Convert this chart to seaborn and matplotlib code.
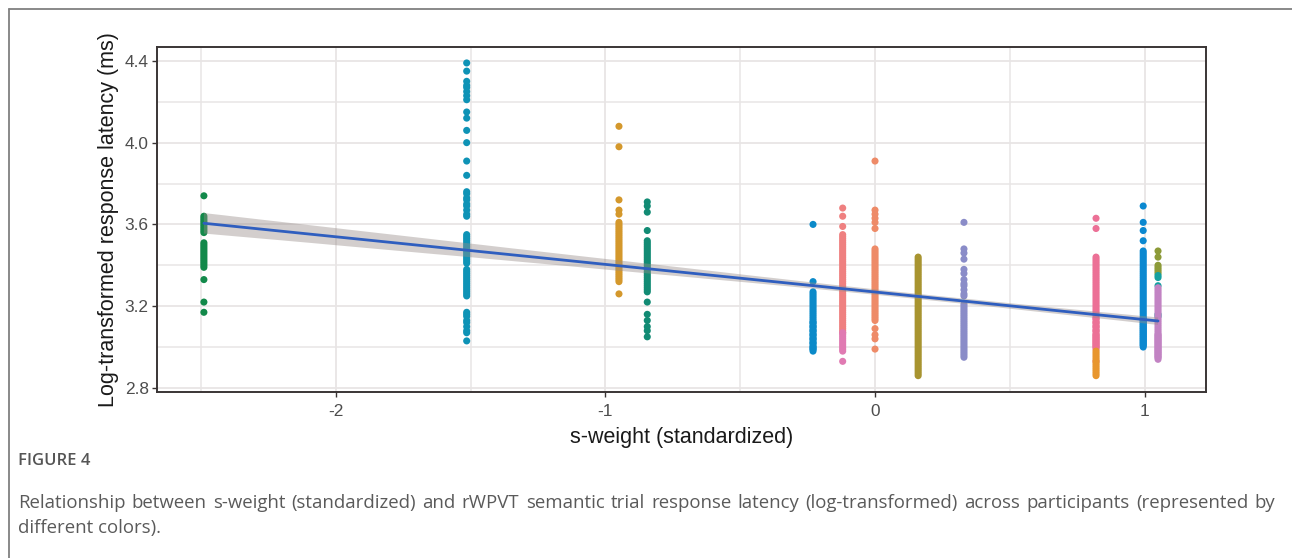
import numpy as np
import pandas as pd
import matplotlib
matplotlib.use("Agg")
import matplotlib.pyplot as plt
import seaborn as sns
from matplotlib.lines import Line2D

# ---------------- data ----------------
participant_ids = ["P01", "P02", "P03", "P04", "P05", "P06", "P07", "P08",
                   "P09", "P10", "P11", "P12", "P13", "P14", "P15", "P16"]
sweight = [-2.49, -1.515, -0.95, -0.845, -0.23, -0.12, -0.12, 0.0,
           0.16, 0.33, 0.82, 0.82, 0.995, 1.05, 1.05, 1.05]
colors = ["#12894A", "#0E93B6", "#D4982C", "#128B74", "#0B8AC9", "#EF8080",
          "#E07AB2", "#EE8B68", "#A89430", "#8A8CC8", "#EC7096", "#E8962E",
          "#0B88D0", "#8C9A38", "#14A0A0", "#C283C3"]

p01 = [3.74, 3.64, 3.63, 3.62, 3.61, 3.60, 3.59, 3.58, 3.57, 3.56, 3.51, 3.50,
       3.49, 3.48, 3.47, 3.46, 3.45, 3.44, 3.43, 3.42, 3.41, 3.40, 3.39, 3.33,
       3.22, 3.17]
p02 = [4.39, 4.35, 4.30, 4.28, 4.27, 4.25, 4.23, 4.21, 4.15, 4.12, 4.06, 4.00,
       3.91, 3.84, 3.76, 3.75, 3.73, 3.72, 3.70, 3.69, 3.67, 3.65, 3.64, 3.55,
       3.54, 3.53, 3.52, 3.51, 3.50, 3.49, 3.48, 3.47, 3.46, 3.45, 3.44, 3.43,
       3.42, 3.41, 3.38, 3.37, 3.36, 3.35, 3.34, 3.33, 3.32, 3.31, 3.30, 3.29,
       3.28, 3.27, 3.26, 3.25, 3.17, 3.16, 3.15, 3.13, 3.12, 3.10, 3.08, 3.07,
       3.03]
p03 = [4.08, 3.98, 3.72, 3.67, 3.65, 3.61, 3.60, 3.59, 3.58, 3.57, 3.56, 3.55,
       3.54, 3.53, 3.52, 3.51, 3.50, 3.49, 3.48, 3.47, 3.46, 3.45, 3.44, 3.43,
       3.42, 3.41, 3.40, 3.39, 3.38, 3.37, 3.36, 3.35, 3.34, 3.33, 3.32, 3.26]
p04 = [3.71, 3.69, 3.66, 3.57, 3.52, 3.51, 3.50, 3.49, 3.48, 3.47, 3.46, 3.45,
       3.44, 3.43, 3.42, 3.41, 3.40, 3.39, 3.38, 3.37, 3.36, 3.35, 3.34, 3.33,
       3.32, 3.31, 3.30, 3.29, 3.28, 3.27, 3.22, 3.16, 3.13, 3.10, 3.08, 3.05]
p05 = [3.60, 3.32, 3.27, 3.26, 3.25, 3.24, 3.23, 3.22, 3.21, 3.20, 3.19, 3.18,
       3.17, 3.16, 3.15, 3.14, 3.13, 3.12, 3.11, 3.10, 3.09, 3.08, 3.07, 3.06,
       3.05, 3.04, 3.03, 3.02, 3.01, 3.00, 2.99, 2.98, 3.02, 3.04, 3.06, 3.08,
       3.10, 3.12, 3.00, 2.99]
p06 = [3.68, 3.64, 3.59, 3.55, 3.54, 3.53, 3.52, 3.51, 3.50, 3.49, 3.48, 3.47,
       3.46, 3.45, 3.44, 3.43, 3.42, 3.41, 3.40, 3.39, 3.38, 3.37, 3.36, 3.35,
       3.34, 3.33, 3.32, 3.31, 3.30, 3.29, 3.28, 3.27, 3.26, 3.25, 3.24, 3.23,
       3.22, 3.21, 3.20, 3.19, 3.18, 3.17, 3.16, 3.15, 3.14, 3.13, 3.12, 3.11,
       3.10, 3.09, 3.08, 3.07]
p07 = [3.07, 3.06, 3.05, 3.04, 3.03, 3.02, 3.01, 3.00, 2.99, 2.98, 2.93]
p08 = [3.91, 3.67, 3.65, 3.63, 3.61, 3.58, 3.48, 3.47, 3.46, 3.45, 3.44, 3.43,
       3.42, 3.41, 3.40, 3.39, 3.38, 3.37, 3.36, 3.35, 3.34, 3.33, 3.32, 3.31,
       3.30, 3.29, 3.28, 3.27, 3.26, 3.25, 3.24, 3.23, 3.22, 3.21, 3.20, 3.19,
       3.18, 3.17, 3.16, 3.15, 3.14, 3.13, 3.09, 3.06, 3.04, 2.99]
p09 = [3.44, 3.43, 3.42, 3.41, 3.40, 3.39, 3.38, 3.37, 3.36, 3.35, 3.34, 3.33,
       3.32, 3.31, 3.30, 3.29, 3.28, 3.27, 3.26, 3.25, 3.24, 3.23, 3.22, 3.21,
       3.20, 3.19, 3.18, 3.17, 3.16, 3.15, 3.14, 3.13, 3.12, 3.11, 3.10, 3.09,
       3.08, 3.07, 3.06, 3.05, 3.04, 3.03, 3.02, 3.01, 3.00, 2.99, 2.98, 2.97,
       2.96, 2.95, 2.94, 2.93, 2.92, 2.91, 2.90, 2.89, 2.88, 2.87, 2.86]
p10 = [3.61, 3.48, 3.46, 3.43, 3.38, 3.36, 3.33, 3.31, 3.30, 3.28, 3.26, 3.25,
       3.21, 3.20, 3.19, 3.18, 3.17, 3.16, 3.15, 3.14, 3.13, 3.12, 3.11, 3.10,
       3.09, 3.08, 3.07, 3.06, 3.05, 3.04, 3.03, 3.02, 3.01, 3.00, 2.99, 2.98,
       2.97, 2.96, 2.95]
p11 = [3.63, 3.58, 3.44, 3.43, 3.42, 3.41, 3.40, 3.39, 3.38, 3.37, 3.36, 3.35,
       3.34, 3.33, 3.32, 3.31, 3.30, 3.29, 3.28, 3.27, 3.26, 3.25, 3.24, 3.23,
       3.22, 3.21, 3.20, 3.19, 3.18, 3.17, 3.16, 3.15, 3.14, 3.13, 3.12, 3.11,
       3.10, 3.09, 3.08, 3.07, 3.06, 3.05, 3.04, 3.03, 3.02, 3.01, 3.00, 2.99,
       2.93, 3.00, 3.02, 3.04, 3.06, 3.08, 3.10, 3.12, 3.14, 3.01, 3.03, 3.05]
p12 = [2.98, 2.97, 2.96, 2.95, 2.94, 2.93, 2.92, 2.91, 2.90, 2.89, 2.88, 2.87,
       2.86]
p13 = [3.69, 3.61, 3.57, 3.52, 3.47, 3.46, 3.45, 3.44, 3.43, 3.42, 3.41, 3.40,
       3.39, 3.38, 3.37, 3.36, 3.35, 3.34, 3.33, 3.32, 3.31, 3.30, 3.29, 3.28,
       3.27, 3.26, 3.25, 3.24, 3.23, 3.22, 3.21, 3.20, 3.19, 3.18, 3.17, 3.16,
       3.15, 3.14, 3.13, 3.12, 3.11, 3.10, 3.09, 3.08, 3.07, 3.06, 3.05, 3.04,
       3.03, 3.02, 3.01, 3.00, 3.01, 3.03, 3.05, 3.07, 3.09, 3.11, 3.13, 3.02,
       3.04, 3.06, 3.08, 3.10, 3.12, 3.14]
p14 = [3.47, 3.44, 3.40, 3.39, 3.38, 3.37, 3.36]
p15 = [3.35, 3.34, 3.30, 3.16, 3.15]
p16 = [3.29, 3.28, 3.27, 3.26, 3.25, 3.24, 3.23, 3.22, 3.21, 3.20, 3.19, 3.18,
       3.17, 3.16, 3.15, 3.14, 3.13, 3.12, 3.11, 3.10, 3.09, 3.08, 3.07, 3.06,
       3.05, 3.04, 3.03, 3.02, 3.01, 3.00, 2.99, 2.98, 2.97, 2.96, 2.95, 2.94,
       2.95, 2.96, 2.97, 2.98, 2.99, 3.00, 3.01, 3.02, 3.03, 3.04, 3.05, 3.06]
latencies = [p01, p02, p03, p04, p05, p06, p07, p08,
             p09, p10, p11, p12, p13, p14, p15, p16]

x_ticks = [-2, -1, 0, 1]
x_tick_labels = ["-2", "-1", "0", "1"]
y_ticks = [2.8, 3.2, 3.6, 4.0, 4.4]
y_tick_labels = ["2.8", "3.2", "3.6", "4.0", "4.4"]
x_label = "s-weight (standardized)"
y_label = "Log-transformed response latency (ms)"
fig_label = "FIGURE 4"
caption_1 = ("Relationship between s-weight (standardized) and rWPVT semantic trial "
             "response latency (log-transformed) across participants (represented by")
caption_2 = "different colors)."

# ---------------- build table ----------------
rows = []
for pid, xv, ys in zip(participant_ids, sweight, latencies):
    for yv in ys:
        rows.append((pid, xv, yv))
df = pd.DataFrame(rows, columns=["participant", "sweight", "latency"])
palette = dict(zip(participant_ids, colors))

# ---------------- figure ----------------
W, H = 1292, 558
sns.set_theme(style="white")
plt.rcParams["font.family"] = ["Liberation Sans", "DejaVu Sans"]

fig = plt.figure(figsize=(W / 100, H / 100), dpi=100)
fig.patch.set_facecolor("white")
ax = fig.add_axes([157 / W, 1 - 392 / H, (1206 - 157) / W, (392 - 47) / H])
ax.set_facecolor("white")

sns.scatterplot(data=df, x="sweight", y="latency", hue="participant",
                palette=palette, s=26, linewidth=0, edgecolor="none",
                legend=False, ax=ax, zorder=2)

sns.regplot(data=df, x="sweight", y="latency", scatter=False, ci=90,
            n_boot=1000, seed=3, color="#2F5EBF", ax=ax,
            line_kws=dict(color="#2F5EBF", lw=2.0, zorder=4))
band = ax.collections[-1]
band.set_facecolor("#968C88")
band.set_edgecolor("none")
band.set_alpha(0.42)
band.set_zorder(3)

ax.set_xlim(-2.664, 1.228)
ax.set_ylim(2.78, 4.468)
ax.set_xticks(x_ticks)
ax.set_xticklabels(x_tick_labels)
ax.set_yticks(y_ticks)
ax.set_yticklabels(y_tick_labels)
ax.set_xticks([-2.5, -1.5, -0.5, 0.5], minor=True)
ax.set_yticks([3.0, 3.4, 3.8, 4.2], minor=True)
ax.grid(which="major", color="#E8E5E5", lw=1.3)
ax.grid(which="minor", color="#E8E5E5", lw=1.1)
ax.set_axisbelow(True)

for sp in ax.spines.values():
    sp.set_visible(True)
    sp.set_color("#3A3535")
    sp.set_linewidth(1.4)

ax.tick_params(which="major", direction="out", length=3.5, width=1.0,
               color="#3A3535", labelcolor="#4D4D4D", labelsize=12.4,
               bottom=True, left=True)
ax.tick_params(axis="x", which="major", pad=5)
ax.tick_params(axis="y", which="major", pad=2.5)
ax.tick_params(which="minor", length=0)

ax.set_xlabel(x_label, fontsize=15.5, color="#1A1A1A", labelpad=6)
ax.set_ylabel(y_label, fontsize=15.5, color="#1A1A1A", labelpad=4)

# outer frame (top and left rules)
fig.add_artist(Line2D([9 / W, 1.0], [1 - 9 / H, 1 - 9 / H], color="#808080",
                      lw=1.3, transform=fig.transFigure))
fig.add_artist(Line2D([9 / W, 9 / W], [1 - 9 / H, 0.0], color="#808080",
                      lw=1.3, transform=fig.transFigure))

# caption
cap_font = ["Open Sans", "DejaVu Sans"]
fig.text(18 / W, 1 - 461 / H, fig_label, family=cap_font, fontsize=12,
         fontweight="semibold", color="#555555", va="center", ha="left")

renderer = fig.canvas.get_renderer()


def justified(text, x0, x1, yc, size):
    words = text.split()
    while True:
        arts = [fig.text(0, 1 - yc / H, w, family=cap_font, fontsize=size,
                         color="#5A5A5A", va="center", ha="left") for w in words]
        widths = [a.get_window_extent(renderer).width for a in arts]
        gap = ((x1 - x0) - sum(widths)) / (len(words) - 1)
        if gap >= 6 or size < 9:
            break
        for a in arts:
            a.remove()
        size -= 0.2
    pos = x0
    for a, wd in zip(arts, widths):
        a.set_x(pos / W)
        pos += wd + gap
    return size


used = justified(caption_1, 18, 1275, 503, 13.6)
fig.text(18 / W, 1 - 528 / H, caption_2, family=cap_font, fontsize=used,
         color="#5A5A5A", va="center", ha="left")

fig.savefig("out.png", dpi=100, facecolor="white")
